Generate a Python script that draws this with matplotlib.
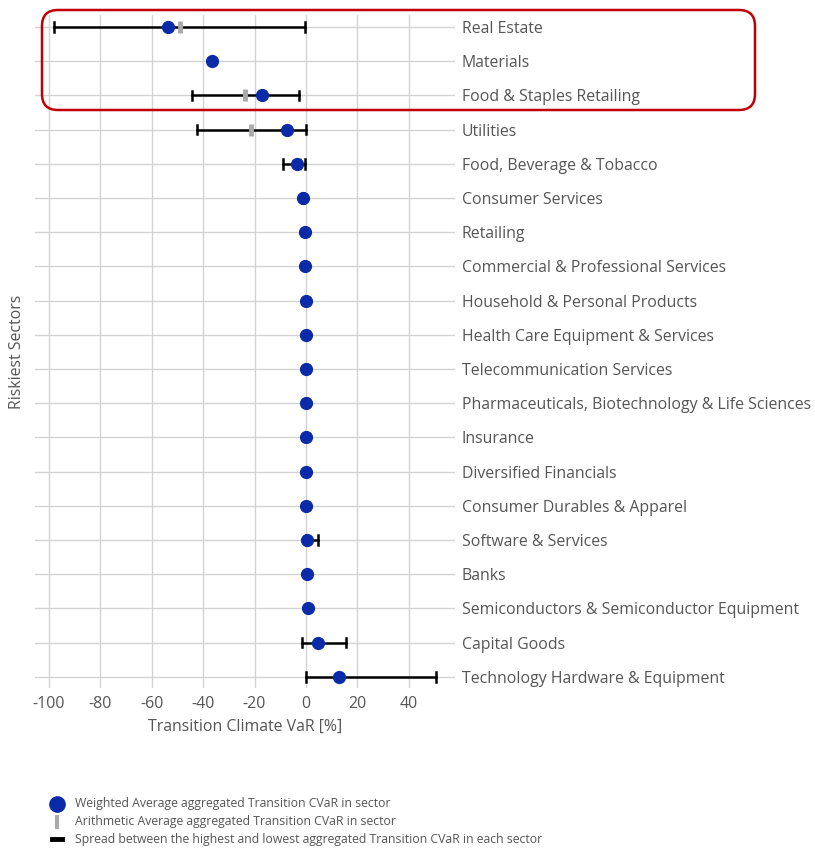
import numpy as np
import matplotlib.pyplot as plt
from matplotlib.lines import Line2D
from matplotlib.patches import FancyBboxPatch
from matplotlib.transforms import IdentityTransform

plt.rcParams['font.family'] = ['Open Sans', 'DejaVu Sans']
plt.rcParams['axes.unicode_minus'] = False

sectors = ["Real Estate", "Materials", "Food & Staples Retailing", "Utilities",
           "Food, Beverage & Tobacco", "Consumer Services", "Retailing",
           "Commercial & Professional Services", "Household & Personal Products",
           "Health Care Equipment & Services", "Telecommunication Services",
           "Pharmaceuticals, Biotechnology & Life Sciences", "Insurance",
           "Diversified Financials", "Consumer Durables & Apparel",
           "Software & Services", "Banks",
           "Semiconductors & Semiconductor Equipment", "Capital Goods",
           "Technology Hardware & Equipment"]
weighted = [-53.8, -36.6, -16.9, -7.4, -3.4, -1.0, -0.5, -0.2, 0.0, 0.1,
            0.1, 0.2, 0.1, 0.1, 0.2, 0.3, 0.5, 1.0, 4.8, 13.0]
arith = [-49.0, np.nan, -23.6, -21.4, -2.5, np.nan, np.nan, np.nan, np.nan, np.nan,
         np.nan, np.nan, np.nan, np.nan, np.nan, np.nan, np.nan, np.nan, np.nan, np.nan]
low = [-98.2, np.nan, -44.2, -42.3, -8.9, -1.6, np.nan, np.nan, np.nan, np.nan,
       np.nan, np.nan, np.nan, np.nan, np.nan, 0.0, np.nan, np.nan, -1.4, 0.0]
high = [-0.3, np.nan, -2.6, 0.0, -0.3, -0.8, np.nan, np.nan, np.nan, np.nan,
        np.nan, np.nan, np.nan, np.nan, np.nan, 4.7, np.nan, np.nan, 15.4, 50.8]
xticks = [-100, -80, -60, -40, -20, 0, 20, 40]

blue = '#0a2aa8'
txt = '#555555'

fig = plt.figure(figsize=(8.15, 8.51), dpi=100)
ax = fig.add_axes([35 / 815, 1 - 688 / 851, 420 / 815, 673 / 851])

y = np.arange(len(sectors))
for i in y:
    if not np.isnan(low[i]):
        ax.plot([low[i], high[i]], [i, i], color='black', lw=1.8, zorder=3)
        for v in (low[i], high[i]):
            ax.plot([v, v], [i - 0.14, i + 0.14], color='black', lw=1.8, zorder=3)
ax.plot(arith, y, linestyle='none', marker='|', markersize=9, mew=3.5,
        color='#aaaaaa', zorder=4)
ax.plot(weighted, y, linestyle='none', marker='o', markersize=8.5,
        color=blue, zorder=5)

ax.set_xlim(-105.4, 58)
ax.set_ylim(19.33, -0.35)
ax.set_xticks(xticks)
ax.set_yticks(y)
ax.set_yticklabels(sectors)
ax.yaxis.tick_right()
ax.tick_params(axis='y', length=0, pad=5, labelsize=11.4, labelcolor=txt)
ax.tick_params(axis='x', length=0, pad=6, labelsize=11.5, labelcolor=txt)
ax.grid(True, color='#d3d3d3', lw=1)
ax.set_axisbelow(True)
for s in ax.spines.values():
    s.set_visible(False)
ax.set_xlabel('Transition Climate VaR [%]', fontsize=11.4, color=txt, labelpad=5)
ax.set_ylabel('Riskiest Sectors', fontsize=11.4, color=txt)
ax.yaxis.set_label_position('left')
ax.yaxis.set_label_coords(-0.024, 0.5)

# highlight box around the top three sectors
box = FancyBboxPatch((42, 851 - 110), 713, 100, boxstyle='round,pad=0,rounding_size=16',
                     transform=IdentityTransform(), fill=False, edgecolor='#c00000', lw=1.8)
fig.add_artist(box)

# legend
lx = 57 / 815
rows = [(804, 'Weighted Average aggregated Transition CVaR in sector'),
        (822, 'Arithmetic Average aggregated Transition CVaR in sector'),
        (840, 'Spread between the highest and lowest aggregated Transition CVaR in each sector')]
fig.add_artist(Line2D([lx], [1 - 804 / 851], marker='o', markersize=11, color=blue,
                      linestyle='none', transform=fig.transFigure))
fig.add_artist(Line2D([lx], [1 - 822 / 851], marker='|', markersize=10, mew=3,
                      color='#aaaaaa', linestyle='none', transform=fig.transFigure))
fig.add_artist(Line2D([52 / 815, 62 / 815], [1 - 839 / 851] * 2, color='black', lw=3.5,
                      transform=fig.transFigure))
for yy, t in rows:
    fig.text(75 / 815, 1 - yy / 851, t, fontsize=8.8, color=txt, va='center')

fig.savefig('out.png', dpi=100)
